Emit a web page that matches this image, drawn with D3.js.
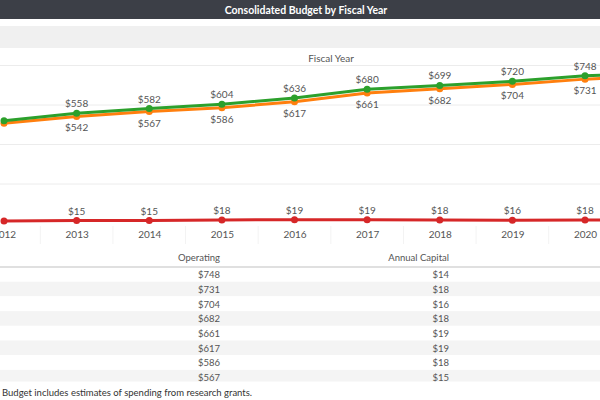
<!DOCTYPE html>
<html>
<head>
<meta charset="utf-8">
<script src="https://cdn.jsdelivr.net/npm/d3@7"></script>
<style>
  body { margin: 0; background: #fff; }
  svg { display: block; font-family: Lato, "Noto Sans", sans-serif; }
</style>
</head>
<body>
<svg id="chart" width="600" height="400"></svg>
<script>
const years = [2012, 2013, 2014, 2015, 2016, 2017, 2018, 2019, 2020, 2021];
const total = [520, 558, 582, 604, 636, 680, 699, 720, 748, 762];
const operating = [507, 542, 567, 586, 617, 661, 682, 704, 731, 748];
const capital = [13, 15, 15, 18, 19, 19, 18, 16, 18, 14];
const yTicks = [0, 200, 400, 600, 800];

const W = 600, H = 400;
const svg = d3.select("#chart");

// header strip
svg.append("rect").attr("width", W).attr("height", 19).attr("fill", "#3c3f47");
svg.append("text")
    .attr("x", 306).attr("y", 10)
    .attr("dy", "0.35em")
    .attr("text-anchor", "middle")
    .attr("fill", "#fff")
    .attr("font-weight", "bold")
    .attr("font-size", "10.5px")
    .text("Consolidated Budget by Fiscal Year");

svg.append("rect").attr("y", 26).attr("width", W).attr("height", 22).attr("fill", "#f0f0f0");

svg.append("text")
    .attr("x", 331).attr("y", 58)
    .attr("dy", "0.35em")
    .attr("text-anchor", "middle")
    .attr("fill", "#555")
    .attr("font-size", "10px")
    .text("Fiscal Year");

const x = d3.scalePoint().domain(years).range([4, 4 + 9 * 72.625]);
const y = d3.scaleLinear().domain([0, 800]).range([223.5, 65.5]);

// gridlines
svg.append("g")
    .selectAll("line")
    .data(yTicks.slice(1))
    .join("line")
    .attr("x1", 0).attr("x2", W)
    .attr("y1", d => y(d)).attr("y2", d => y(d))
    .attr("stroke", "#ececec")
    .attr("stroke-width", 1);

// faint column dividers in the axis strip
svg.append("g")
    .selectAll("line")
    .data(years.slice(1))
    .join("line")
    .attr("x1", d => x(d) - x.step() / 2).attr("x2", d => x(d) - x.step() / 2)
    .attr("y1", 226).attr("y2", 244)
    .attr("stroke", "#f3f3f3");

const series = [
    { name: "Annual Capital", values: capital, color: "#d62728", above: true },
    { name: "Operating", values: operating, color: "#ff7f0e", above: false },
    { name: "Total", values: total, color: "#2ca02c", above: true }
];

const line = d3.line()
    .x(d => x(d.year))
    .y(d => y(d.value));

series.forEach(s => {
    const pts = years.map((yr, i) => ({ year: yr, value: s.values[i] }));
    const g = svg.append("g");
    g.append("path")
        .datum(pts)
        .attr("d", line)
        .attr("fill", "none")
        .attr("stroke", s.color)
        .attr("stroke-width", 3);
    g.selectAll("circle")
        .data(pts)
        .join("circle")
        .attr("cx", d => x(d.year))
        .attr("cy", d => y(d.value))
        .attr("r", 3.5)
        .attr("fill", s.color);
    g.selectAll("text")
        .data(pts.filter(d => x(d.year) > 12 && x(d.year) < W - 12))
        .join("text")
        .attr("x", d => x(d.year))
        .attr("y", d => y(d.value) + (s.above ? -9.5 : 11.5))
        .attr("dy", "0.35em")
        .attr("text-anchor", "middle")
        .attr("fill", "#555")
        .attr("font-size", "10px")
        .text(d => "$" + d.value);
});

// x axis (only the years that fall inside the view)
const xAxis = svg.append("g")
    .attr("transform", "translate(0,224)")
    .call(d3.axisBottom(x)
        .tickValues(years.filter(d => x(d) < W))
        .tickSize(0).tickPadding(6.5).tickFormat(d3.format("d")));
xAxis.select(".domain").remove();
xAxis.selectAll("text")
    .attr("fill", "#555")
    .attr("font-size", "10px")
    .attr("font-family", "Lato, 'Noto Sans', sans-serif");

// table
const colOp = 220, colCap = 449;
const rowH = 14.7, tableTop = 267, tableBottom = 381.5;

svg.append("defs").append("clipPath").attr("id", "tclip")
    .append("rect").attr("x", 0).attr("y", tableTop).attr("width", W).attr("height", tableBottom - tableTop);

const headers = [
    { label: "Operating", x: colOp },
    { label: "Annual Capital", x: colCap }
];
svg.append("g")
    .selectAll("text")
    .data(headers)
    .join("text")
    .attr("x", d => d.x).attr("y", 257.5)
    .attr("dy", "0.35em")
    .attr("text-anchor", "end")
    .attr("fill", "#555")
    .attr("font-size", "9.5px")
    .text(d => d.label);

const rows = years.map((yr, i) => ({ year: yr, op: operating[i], cap: capital[i] }))
    .sort((a, b) => b.year - a.year)
    .filter((d, i) => tableTop + i * rowH < tableBottom);

const tg = svg.append("g").attr("clip-path", "url(#tclip)");
const row = tg.selectAll("g")
    .data(rows)
    .join("g")
    .attr("transform", (d, i) => `translate(0,${tableTop + i * rowH})`);
row.append("rect")
    .attr("width", W).attr("height", rowH)
    .attr("fill", (d, i) => i % 2 ? "#f4f4f4" : "#fff");
row.append("text")
    .attr("x", colOp).attr("y", rowH / 2 + 0.5)
    .attr("dy", "0.35em")
    .attr("text-anchor", "end")
    .attr("fill", "#555")
    .attr("font-size", "9.5px")
    .text(d => "$" + d.op);
row.append("text")
    .attr("x", colCap).attr("y", rowH / 2 + 0.5)
    .attr("dy", "0.35em")
    .attr("text-anchor", "end")
    .attr("fill", "#555")
    .attr("font-size", "9.5px")
    .text(d => "$" + d.cap);

svg.append("line")
    .attr("x1", 0).attr("x2", W)
    .attr("y1", tableTop).attr("y2", tableTop)
    .attr("stroke", "#e0e0e0")
    .attr("stroke-width", 2);

svg.append("text")
    .attr("x", 2).attr("y", 392.5)
    .attr("dy", "0.35em")
    .attr("fill", "#333")
    .attr("font-size", "9.5px")
    .text("Budget includes estimates of spending from research grants.");
</script>
</body>
</html>
